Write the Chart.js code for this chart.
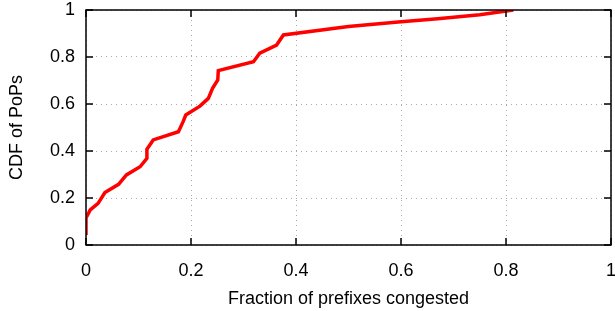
<!DOCTYPE html>
<html>
<head>
<meta charset="utf-8">
<script src="https://cdn.jsdelivr.net/npm/chart.js@4/dist/chart.umd.min.js"></script>
<style>
  html, body { margin: 0; padding: 0; background: #fff; }
  #wrap { width: 615px; height: 311px; }
</style>
</head>
<body>
<div id="wrap"><canvas id="cdfChart" width="615" height="311"></canvas></div>
<script>
// CDF points
const fractionCongested = [0, 0, 0.008, 0.023, 0.036, 0.062, 0.077, 0.103, 0.116, 0.116, 0.128,
  0.176, 0.185, 0.19, 0.217, 0.233, 0.241, 0.251, 0.252, 0.319, 0.331, 0.363, 0.376,
  0.5, 0.6, 0.67, 0.75, 0.814];
const cdfPoPs = [0.043, 0.115, 0.149, 0.177, 0.223, 0.258, 0.298, 0.333, 0.369, 0.407, 0.447,
  0.482, 0.525, 0.553, 0.591, 0.624, 0.667, 0.702, 0.742, 0.780, 0.816, 0.851, 0.894,
  0.93, 0.95, 0.963, 0.98, 1.0];

const xTickLabels = ['0', '0.2', '0.4', '0.6', '0.8', '1'];
const yTickLabels = ['0', '0.2', '0.4', '0.6', '0.8', '1'];
const tickValues = [0, 0.2, 0.4, 0.6, 0.8, 1];

const points = fractionCongested.map((x, i) => ({ x: x, y: cdfPoPs[i] }));

// gnuplot style: ticks pointing inwards on all four sides, plus a black frame
const innerTicks = {
  id: 'innerTicks',
  afterDraw(chart) {
    const ctx = chart.ctx;
    const a = chart.chartArea;
    const xs = chart.scales.x, ys = chart.scales.y;
    const len = 7;
    ctx.save();
    ctx.strokeStyle = '#000';
    ctx.lineWidth = 1.5;
    tickValues.forEach(v => {
      let px = xs.getPixelForValue(v);
      ctx.beginPath();
      ctx.moveTo(px, a.bottom); ctx.lineTo(px, a.bottom - len);
      ctx.moveTo(px, a.top); ctx.lineTo(px, a.top + len);
      ctx.stroke();
      let py = ys.getPixelForValue(v);
      ctx.beginPath();
      ctx.moveTo(a.left, py); ctx.lineTo(a.left + len, py);
      ctx.moveTo(a.right, py); ctx.lineTo(a.right - len, py);
      ctx.stroke();
    });
    ctx.strokeRect(a.left, a.top, a.right - a.left, a.bottom - a.top);
    ctx.restore();
  }
};

const tickFont = { family: 'Liberation Sans, Arial, sans-serif', size: 18 };

new Chart(document.getElementById('cdfChart').getContext('2d'), {
  type: 'line',
  data: {
    datasets: [{
      data: points,
      borderColor: '#ff0000',
      borderWidth: 3.5,
      pointRadius: 0,
      fill: false,
      tension: 0
    }]
  },
  options: {
    responsive: false,
    animation: false,
    layout: { padding: { top: 10, right: 4, left: 0, bottom: 0 } },
    plugins: { legend: { display: false }, tooltip: { enabled: false } },
    scales: {
      x: {
        type: 'linear',
        min: 0, max: 1,
        afterBuildTicks: s => { s.ticks = tickValues.map(v => ({ value: v })); },
        afterFit: s => { s.height = 66; s.paddingLeft = 0; s.paddingRight = 0; },
        ticks: {
          color: '#000', font: tickFont, padding: 15, maxRotation: 0,
          callback: (v) => xTickLabels[tickValues.indexOf(Math.round(v * 10) / 10)]
        },
        grid: { color: '#aaa', lineWidth: 1, drawTicks: false, tickLength: 0 },
        border: { display: false, dash: [1, 4] },
        title: {
          display: true, text: 'Fraction of prefixes congested', color: '#000',
          font: tickFont, padding: { top: 4, bottom: 1 }
        }
      },
      y: {
        min: 0, max: 1,
        afterBuildTicks: s => { s.ticks = tickValues.map(v => ({ value: v })); },
        afterFit: s => { s.width = 86; s.paddingTop = 0; s.paddingBottom = 0; },
        ticks: {
          color: '#000', font: tickFont, padding: 11,
          callback: (v) => yTickLabels[tickValues.indexOf(Math.round(v * 10) / 10)]
        },
        grid: { color: '#aaa', lineWidth: 1, drawTicks: false, tickLength: 0 },
        border: { display: false, dash: [1, 4] },
        title: {
          display: true, text: 'CDF of PoPs', color: '#000',
          font: tickFont, padding: { top: 6, bottom: 10 }
        }
      }
    }
  },
  plugins: [innerTicks]
});
</script>
</body>
</html>
